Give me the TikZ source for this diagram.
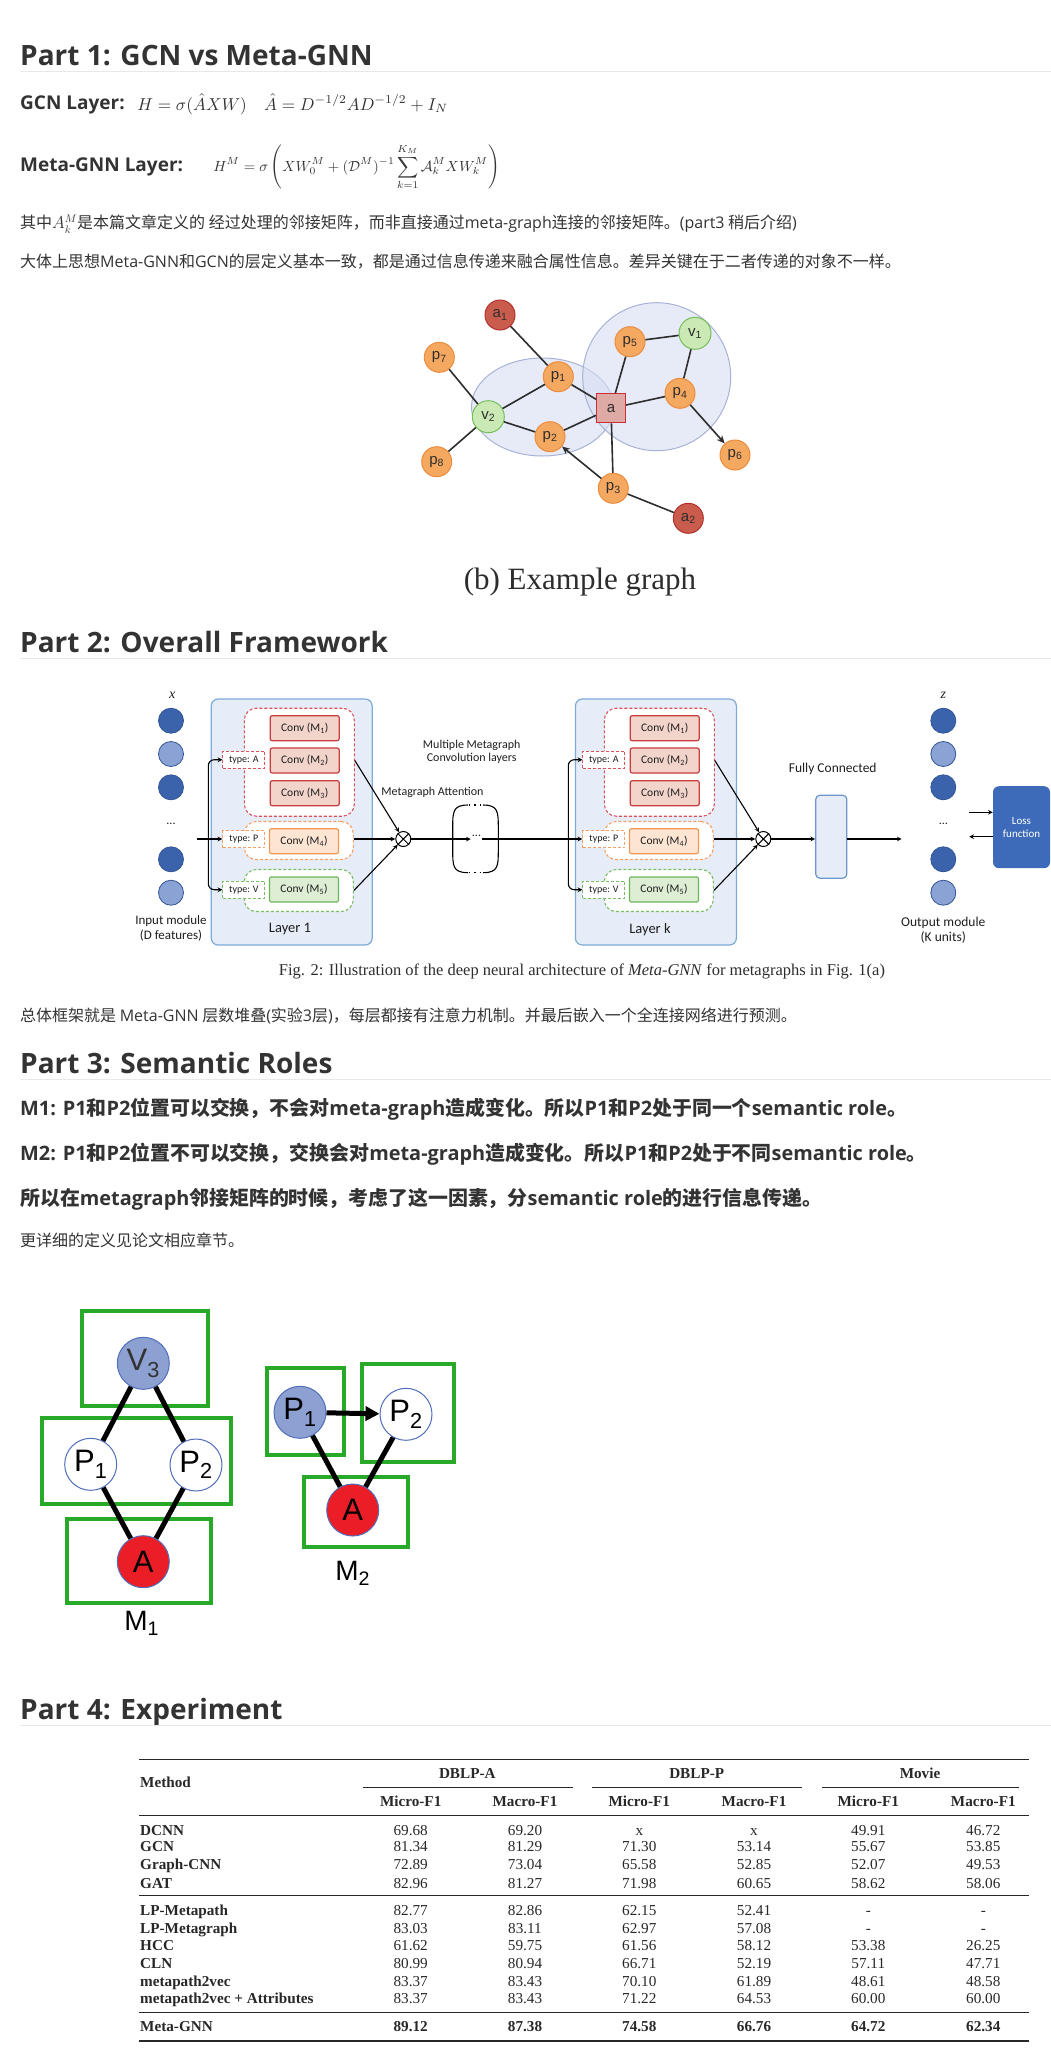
\documentclass[tikz,border=0pt]{standalone}
\usepackage{fontspec}
\usepackage{amsmath}
\usepackage{xcolor}
\usepackage{tikz}
\usetikzlibrary{positioning, arrows.meta, shapes.geometric}

\newfontfamily\headfont{Open Sans}
\newfontfamily\cjkfont{Noto Sans CJK SC}
\newfontfamily\figfont{Carlito}
\newfontfamily\arialfont{Liberation Sans}
\newfontfamily\timesfont{Liberation Serif}
\newcommand{\fsz}[1]{\fontsize{#1}{\fpeval{1.15*#1}}\selectfont}
\newcommand{\ltn}[1]{{\headfont #1}}

\definecolor{txtC}{RGB}{51,51,51}
\definecolor{ruleC}{RGB}{232,232,232}
\definecolor{gTxt}{RGB}{45,45,45}
\definecolor{orgF}{RGB}{245,168,96}
\definecolor{orgB}{RGB}{236,140,62}
\definecolor{grnF}{RGB}{202,233,180}
\definecolor{grnB}{RGB}{118,190,92}
\definecolor{redF}{RGB}{202,92,78}
\definecolor{redB}{RGB}{180,48,44}
\definecolor{sqF}{RGB}{222,170,165}
\definecolor{sqB}{RGB}{205,45,55}
\definecolor{ellF}{RGB}{214,222,242}
\definecolor{ellB}{RGB}{168,178,214}
\definecolor{dotD}{RGB}{58,99,172}
\definecolor{dotL}{RGB}{138,163,212}
\definecolor{dotB}{RGB}{50,84,150}
\definecolor{layF}{RGB}{231,237,248}
\definecolor{layB}{RGB}{125,170,215}
\definecolor{convRF}{RGB}{242,212,202}
\definecolor{convRB}{RGB}{200,60,60}
\definecolor{convOF}{RGB}{253,229,212}
\definecolor{convOB}{RGB}{242,150,80}
\definecolor{convGF}{RGB}{222,238,212}
\definecolor{convGB}{RGB}{110,180,90}
\definecolor{dashR}{RGB}{220,80,90}
\definecolor{dashO}{RGB}{245,160,100}
\definecolor{dashG}{RGB}{120,190,100}
\definecolor{fcF}{RGB}{230,236,248}
\definecolor{fcB}{RGB}{110,150,205}
\definecolor{lossC}{RGB}{61,107,185}
\definecolor{fTxt}{RGB}{30,30,30}
\definecolor{gboxC}{RGB}{40,170,40}
\definecolor{mBlue}{RGB}{140,160,210}
\definecolor{mBorder}{RGB}{80,110,185}
\definecolor{mRed}{RGB}{235,30,40}
\definecolor{tabC}{RGB}{40,40,40}

\begin{document}
\begin{tikzpicture}[x=1pt, y=-1pt,
    head/.style={anchor=base west, inner sep=0pt, text=txtC, font={\headfont\bfseries\fsz{28}}},
    hrule/.style={draw=ruleC, line width=1pt},
    lead/.style={anchor=base west, inner sep=0pt, text=txtC, font={\headfont\bfseries\fsz{19}}},
    mathtxt/.style={anchor=base west, inner sep=0pt, text=txtC, font=\fsz{10}},
    body/.style={anchor=west, inner sep=0pt, text=txtC, font={\cjkfont\fsz{16}}},
    boldline/.style={anchor=west, inner sep=0pt, text=txtC, font={\cjkfont\bfseries\fsz{19.9}}},
    pnode/.style={circle, draw=orgB, fill=orgF, line width=1pt, minimum size=30pt, inner sep=0pt, text=gTxt, font={\arialfont\fsz{15}}},
    vnode/.style={pnode, draw=grnB, fill=grnF, minimum size=32pt},
    anode/.style={pnode, draw=redB, fill=redF},
    sqnode/.style={rectangle, draw=sqB, fill=sqF, line width=1.2pt, minimum size=29pt, inner sep=0pt, text=gTxt, font={\arialfont\fsz{15}}},
    gedge/.style={draw=gTxt, line width=1.6pt},
    garrow/.style={gedge, -{Stealth[length=8pt, width=7pt]}},
    captxt/.style={inner sep=0pt, text=gTxt, font={\timesfont\fsz{31}}},
    ftext/.style={inner sep=0pt, text=fTxt, font={\figfont\fsz{12}}, align=center},
    unit/.style={circle, draw=dotB, line width=0.8pt, minimum size=25pt, inner sep=0pt},
    laybox/.style={draw=layB, fill=layF, line width=1.2pt, rounded corners=7pt},
    grpbox/.style={dash pattern=on 3pt off 2pt, line width=1.1pt, fill=white, rounded corners=12pt},
    typebox/.style={dash pattern=on 3pt off 2pt, fill=white, line width=1.1pt, minimum width=42pt, minimum height=17pt, inner sep=0pt, text=fTxt, font={\figfont\fsz{10}}},
    convbox/.style={draw, line width=1.2pt, minimum width=69pt, minimum height=25pt, inner sep=0pt, rounded corners=2pt, text=fTxt, font={\figfont\fsz{11.5}}},
    arr/.style={->, >=stealth, line width=1.1pt},
    oxnode/.style={circle, draw, line width=1pt, minimum size=15pt, inner sep=0pt},
    gbox/.style={draw=gboxC, line width=4pt, inner sep=0pt},
    mnode/.style={circle, draw=mBorder, line width=1pt, minimum size=52pt, inner sep=0pt, text=black, font={\arialfont\fsz{31}}},
    medge/.style={line width=5pt},
    mlbl/.style={inner sep=0pt, text=black, font={\arialfont\fsz{28}}},
    tmeth/.style={anchor=base west, inner sep=0pt, text=tabC, font={\timesfont\bfseries\fsz{15.2}}},
    tnum/.style={anchor=base, inner sep=0pt, text=tabC, font={\timesfont\fsz{15.2}}},
    thead/.style={anchor=base, inner sep=0pt, text=tabC, font={\timesfont\bfseries\fsz{15.2}}},
    trule/.style={draw=tabC, line width=1.5pt},
    tline/.style={draw=tabC, line width=0.9pt}
]
    \useasboundingbox (0,0) rectangle (1051,2051);

    % Part 1
    \node[head] (h1) at (20,65) {Part 1: GCN vs Meta-GNN};
    \draw[hrule] (20,71) -- (1051,71);
    \node[lead] (gcnlead) at (20,109) {GCN Layer:};
    \node[mathtxt, scale=1.72] (gcnmath) at (137,110) {$H=\sigma(\hat{A}XW)\quad \hat{A}=D^{-1/2}AD^{-1/2}+I_N$};
    \node[lead] (metalead) at (20,171) {Meta-GNN Layer:};
    \node[mathtxt, scale=1.47] (metamath) at (213,171) {$\displaystyle H^M=\sigma\left(XW_0^M+(\mathcal{D}^M)^{-1}\sum_{k=1}^{K_M}\mathcal{A}_k^M XW_k^M\right)$};
    \node[body] (line1) at (20,224) {其中$A_k^M$是本篇文章定义的 经过处理的邻接矩阵，而非直接通过\ltn{meta-graph}连接的邻接矩阵。\ltn{(part3} 稍后介绍\ltn{)}};
    \node[body] (line2) at (20,262) {大体上思想\ltn{Meta-GNN}和\ltn{GCN}的层定义基本一致，都是通过信息传递来融合属性信息。差异关键在于二者传递的对象不一样。};

    \fill[ellF, fill opacity=0.6] (542.5,407) ellipse [x radius=71, y radius=49];
    \draw[ellB, line width=1pt] (542.5,407) ellipse [x radius=71, y radius=49];
    \fill[ellF, fill opacity=0.6] (656.7,376.7) circle [radius=74];
    \draw[ellB, line width=1pt] (656.7,376.7) circle [radius=74];

    \node[anode] (ga1) at (500,315) {a\textsubscript{1}};
    \node[pnode] (gp7) at (439.3,357.3) {p\textsubscript{7}};
    \node[pnode] (gp5) at (630,341.7) {p\textsubscript{5}};
    \node[vnode] (gv1) at (695,333.3) {v\textsubscript{1}};
    \node[pnode] (gp1) at (558.3,376.7) {p\textsubscript{1}};
    \node[sqnode] (ga) at (611,408.3) {a};
    \node[pnode] (gp4) at (680,393.3) {p\textsubscript{4}};
    \node[vnode] (gv2) at (488.3,416.7) {v\textsubscript{2}};
    \node[pnode] (gp2) at (550,436.7) {p\textsubscript{2}};
    \node[pnode] (gp8) at (436.7,461.7) {p\textsubscript{8}};
    \node[pnode] (gp6) at (735,455) {p\textsubscript{6}};
    \node[pnode] (gp3) at (613.3,488.3) {p\textsubscript{3}};
    \node[anode] (ga2) at (688.3,518.3) {a\textsubscript{2}};

    \draw[gedge] (ga1) -- (gp1);
    \draw[gedge] (gp7) -- (gv2);
    \draw[gedge] (gv2) -- (gp1);
    \draw[gedge] (gv2) -- (gp2);
    \draw[gedge] (gv2) -- (gp8);
    \draw[gedge] (gp1) -- (ga);
    \draw[gedge] (gp2) -- (ga);
    \draw[gedge] (ga) -- (gp5);
    \draw[gedge] (ga) -- (gp4);
    \draw[gedge] (ga) -- (gp3);
    \draw[gedge] (gp5) -- (gv1);
    \draw[gedge] (gv1) -- (gp4);
    \draw[garrow] (gp4) -- (gp6);
    \draw[garrow] (gp3) -- (gp2);
    \draw[gedge] (gp3) -- (ga2);
    \node[captxt] (egcap) at (580,582) {(b) Example graph};

    % Part 2
    \node[head] (h2) at (20,652.5) {Part 2: Overall Framework};
    \draw[hrule] (20,658.5) -- (1051,658.5);

    \foreach \y/\c [count=\i] in {720.7/dotD, 754/dotL, 787.3/dotD, 859.3/dotD, 892.7/dotL} {
        \node[unit, fill=\c] (in\i) at (171,\y) {};
        \node[unit, fill=\c] (out\i) at (943.3,\y) {};
    }
    \node[ftext] (indots) at (171,824) {...};
    \node[ftext] (outdots) at (943.3,824) {...};
    \node[ftext, font={\timesfont\itshape\fsz{14}}] (xlab) at (172.3,695) {x};
    \node[ftext, font={\timesfont\itshape\fsz{14}}] (zlab) at (943.3,695) {z};
    \node[ftext, font={\figfont\fsz{13}}] (inlab) at (171,928) {Input module\\(D features)};
    \node[ftext, font={\figfont\fsz{13.5}}] (outlab) at (943.3,930) {Output module\\(K units)};

    \foreach \dx/\ly/\lx in {0/1/291.7, 360/k/655.9} {
        \node[laybox, minimum width=161pt, minimum height=246pt] (lay\ly) at (\lx,822) {};
        \node[grpbox, draw=dashR, minimum width=110pt, minimum height=108pt] (gA\ly) at (299.3+\dx,762.2) {};
        \node[grpbox, draw=dashO, minimum width=109pt, minimum height=38pt] (gP\ly) at (298.8+\dx,840.5) {};
        \node[grpbox, draw=dashG, minimum width=109pt, minimum height=42pt] (gV\ly) at (298.8+\dx,890.5) {};
        \node[typebox, draw=dashR] (tA\ly) at (243.9+\dx,759.7) {type: A};
        \node[typebox, draw=dashO] (tP\ly) at (243.9+\dx,839) {type: P};
        \node[typebox, draw=dashG] (tV\ly) at (243.9+\dx,889.7) {type: V};
        \node[convbox, draw=convRB, fill=convRF] (cA1\ly) at (304.7+\dx,728.2) {Conv (M\textsubscript{1})};
        \node[convbox, draw=convRB, fill=convRF] (cA2\ly) at (304.7+\dx,760.5) {Conv (M\textsubscript{2})};
        \node[convbox, draw=convRB, fill=convRF] (cA3\ly) at (304.7+\dx,793.2) {Conv (M\textsubscript{3})};
        \node[convbox, draw=convOB, fill=convOF] (cP\ly) at (304+\dx,841.2) {Conv (M\textsubscript{4})};
        \node[convbox, draw=convGB, fill=convGF] (cV\ly) at (304+\dx,889.5) {Conv (M\textsubscript{5})};
        \node[ftext, font={\figfont\fsz{14.5}}] (ll\ly) at (290+\dx,929.3) {Layer \ly};
        \node[oxnode] (ox\ly) at (403.3+\dx,839) {};
        \draw[line width=1pt] (ox\ly.north west) -- (ox\ly.south east) (ox\ly.north east) -- (ox\ly.south west);
        \draw[arr] (gA\ly.east |- cA2\ly.east) -- (ox\ly);
        \draw[arr] (gP\ly.east |- ox\ly) -- (ox\ly);
        \draw[arr] (gV\ly.east) -- (ox\ly);
        \coordinate (br\ly) at (208.3+\dx,839);
        \draw[arr, rounded corners=6pt] (br\ly) |- (tA\ly.west);
        \draw[arr, rounded corners=6pt] (br\ly) |- (tV\ly.west);
    }

    \coordinate (inarr) at (197.3,839);
    \draw[arr] (inarr) -- (tP1.west);
    \node[ftext] (mmc) at (471.7,751.7) {Multiple Metagraph\\Convolution layers};
    \node[ftext] (matt) at (432.5,792) {Metagraph Attention};

    \draw[line width=1.1pt] (468,805) .. controls (452.7,805) and (452.7,812) .. (452.7,828) -- (452.7,850) .. controls (452.7,865.7) and (452.7,872.7) .. (468,872.7);
    \draw[line width=1.1pt] (483,805) .. controls (498.3,805) and (498.3,812) .. (498.3,828) -- (498.3,850) .. controls (498.3,865.7) and (498.3,872.7) .. (483,872.7);
    \draw[line width=1.3pt, dash pattern=on 1.3pt off 4pt] (469,805) -- (483,805);
    \draw[line width=1.3pt, dash pattern=on 1.3pt off 4pt] (469,872.7) -- (483,872.7);
    \node[ftext, inner sep=1pt] (mdots) at (476.5,836) {...};
    \draw[arr] (ox1) -- (mdots.west |- ox1);
    \draw[arr] (mdots.east |- ox1) -- (tPk.west);

    \node[draw=fcB, fill=fcF, line width=1.2pt, rounded corners=4pt, minimum width=31pt, minimum height=83pt] (fc) at (831.3,836.7) {};
    \node[ftext, font={\figfont\fsz{13.5}}] (fclab) at (832.7,769) {Fully Connected};
    \coordinate (fcend) at (901.7,839);
    \draw[arr] (oxk) -- (fc.west |- oxk);
    \draw[arr] (fc.east |- fcend) -- (fcend);

    \node[fill=lossC, rounded corners=6pt, minimum width=57pt, minimum height=82pt, text=white, align=center, font={\figfont\fsz{11}}] (loss) at (1021.5,827.2) {Loss\\function};
    \coordinate (lossin) at (969.3,812.3);
    \coordinate (lossout) at (969.3,836.7);
    \draw[arr] (lossin) -- (lossin -| loss.west);
    \draw[arr] (lossout -| loss.west) -- (lossout);

    \node[captxt, font={\timesfont\fsz{16.5}}] (fig2cap) at (582,971) {Fig. 2: Illustration of the deep neural architecture of \textit{Meta-GNN} for metagraphs in Fig. 1(a)};
    \node[body] (line3) at (20,1016) {总体框架就是 \ltn{Meta-GNN} 层数堆叠\ltn{(}实验\ltn{3}层\ltn{)}，每层都接有注意力机制。并最后嵌入一个全连接网络进行预测。};

    % Part 3
    \node[head] (h3) at (20,1073) {Part 3: Semantic Roles};
    \draw[hrule] (20,1079) -- (1051,1079);
    \node[boldline] (m1line) at (20,1109) {\ltn{M1: P1}和\ltn{P2}位置可以交换，不会对\ltn{meta-graph}造成变化。所以\ltn{P1}和\ltn{P2}处于同一个\ltn{semantic role}。};
    \node[boldline] (m2line) at (20,1154.5) {\ltn{M2: P1}和\ltn{P2}位置不可以交换，交换会对\ltn{meta-graph}造成变化。所以\ltn{P1}和\ltn{P2}处于不同\ltn{semantic role}。};
    \node[boldline] (soline) at (20,1199) {所以在\ltn{metagraph}邻接矩阵的时候，考虑了这一因素，分\ltn{semantic role}的进行信息传递。};
    \node[body] (line4) at (20,1240) {更详细的定义见论文相应章节。};

    \node[gbox, minimum width=126pt, minimum height=95pt] (bV3) at (145.3,1358.3) {};
    \node[gbox, minimum width=189pt, minimum height=86pt] (bP12) at (136.3,1461.3) {};
    \node[gbox, minimum width=144pt, minimum height=84pt] (bA1) at (139.2,1561.2) {};
    \node[gbox, minimum width=77pt, minimum height=87pt] (bP1) at (305,1411.7) {};
    \node[gbox, minimum width=92pt, minimum height=98pt] (bP2) at (407.5,1412.8) {};
    \node[gbox, minimum width=104pt, minimum height=70pt] (bA2) at (356.3,1511.7) {};

    \node[mnode, fill=mBlue, text=txtC] (mV3) at (143.3,1363.3) {V\textsubscript{3}};
    \node[mnode, fill=white] (mP1) at (90.7,1464.3) {P\textsubscript{1}};
    \node[mnode, fill=white] (mP2) at (196,1465) {P\textsubscript{2}};
    \node[mnode, fill=mRed] (mA) at (143.3,1561.7) {A};
    \node[mlbl] (m1lab) at (141.7,1623.3) {M\textsubscript{1}};
    \draw[medge] (mV3) -- (mP1);
    \draw[medge] (mV3) -- (mP2);
    \draw[medge] (mP1) -- (mA);
    \draw[medge] (mP2) -- (mA);

    \node[mnode, fill=mBlue] (nP1) at (300,1412.3) {P\textsubscript{1}};
    \node[mnode, fill=white] (nP2) at (406,1414.3) {P\textsubscript{2}};
    \node[mnode, fill=mRed] (nA) at (352.7,1510) {A};
    \node[mlbl] (m2lab) at (352.7,1573.3) {M\textsubscript{2}};
    \draw[medge, -{Triangle[length=14pt, width=14pt]}] (nP1) -- (nP2);
    \draw[medge] (nP1) -- (nA);
    \draw[medge] (nP2) -- (nA);

    % Part 4
    \node[head] (h4) at (20,1719.5) {Part 4: Experiment};
    \draw[hrule] (20,1725.5) -- (1051,1725.5);

    \draw[trule] (139.3,1759.3) -- (1029.3,1759.3);
    \node[tmeth] (thm) at (140,1787.5) {Method};
    \node[thead] (thA) at (467.3,1778) {DBLP-A};
    \node[thead] (thP) at (696.7,1778) {DBLP-P};
    \node[thead] (thM) at (920,1778) {Movie};
    \draw[tline] (363.3,1787.3) -- (572.7,1787.3);
    \draw[tline] (592.3,1787.3) -- (801.7,1787.3);
    \draw[tline] (821.7,1787.3) -- (1019.3,1787.3);
    \foreach \x [count=\i] in {410.7, 639.3, 868.3} {
        \node[thead] (tmi\i) at (\x,1806) {Micro-F1};
    }
    \foreach \x [count=\i] in {525, 754, 983.3} {
        \node[thead] (tma\i) at (\x,1806) {Macro-F1};
    }
    \draw[tline] (139.3,1815) -- (1029.3,1815);

    \foreach \y/\m/\va/\vb/\vc/\vd/\ve/\vf [count=\r] in {
        1835/DCNN/69.68/69.20/x/x/49.91/46.72,
        1851.5/GCN/81.34/81.29/71.30/53.14/55.67/53.85,
        1869.5/Graph-CNN/72.89/73.04/65.58/52.85/52.07/49.53,
        1888/GAT/82.96/81.27/71.98/60.65/58.62/58.06,
        1915.5/LP-Metapath/82.77/82.86/62.15/52.41/-/-,
        1933/LP-Metagraph/83.03/83.11/62.97/57.08/-/-,
        1950/HCC/61.62/59.75/61.56/58.12/53.38/26.25,
        1968/CLN/80.99/80.94/66.71/52.19/57.11/47.71,
        1986/metapath2vec/83.37/83.43/70.10/61.89/48.61/48.58,
        2003/metapath2vec + Attributes/83.37/83.43/71.22/64.53/60.00/60.00} {
        \node[tmeth] (meth\r) at (140,\y) {\m};
        \node[tnum] (n\r-1) at (410.7,\y) {\va};
        \node[tnum] (n\r-2) at (525,\y) {\vb};
        \node[tnum] (n\r-3) at (639.3,\y) {\vc};
        \node[tnum] (n\r-4) at (754,\y) {\vd};
        \node[tnum] (n\r-5) at (868.3,\y) {\ve};
        \node[tnum] (n\r-6) at (983.3,\y) {\vf};
    }
    \draw[tline] (139.3,1895.7) -- (1029.3,1895.7);
    \draw[tline, line width=1.2pt] (139.3,2012.3) -- (1029.3,2012.3);
    \node[tmeth] (methbest) at (140,2031.5) {Meta-GNN};
    \foreach \x/\v [count=\i] in {410.7/89.12, 525/87.38, 639.3/74.58, 754/66.76, 868.3/64.72, 983.3/62.34} {
        \node[thead] (best\i) at (\x,2031.5) {\v};
    }
    \draw[trule] (139.3,2041) -- (1029.3,2041);
\end{tikzpicture}
\end{document}
